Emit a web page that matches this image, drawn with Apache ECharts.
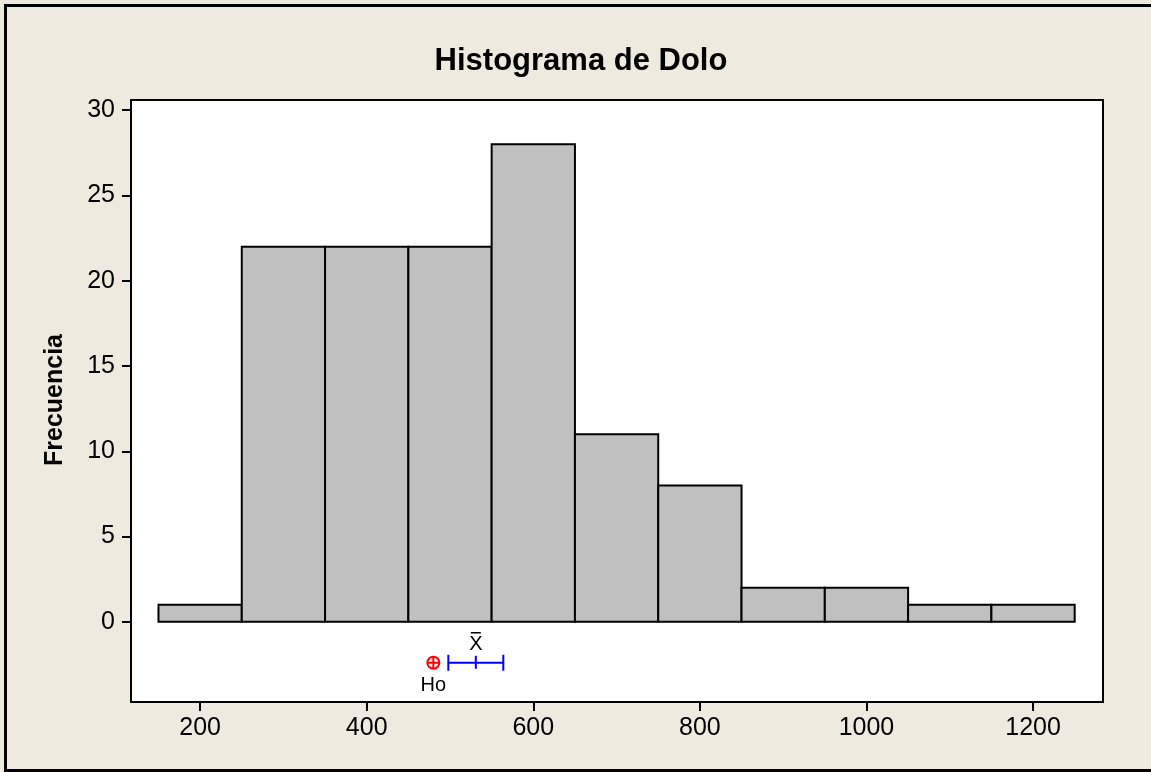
<!DOCTYPE html>
<html>
<head>
<meta charset="utf-8">
<script src="https://cdn.jsdelivr.net/npm/echarts@6/dist/echarts.min.js"></script>
<style>
  html, body { margin: 0; padding: 0; background: #EEEAE0; }
  #chart { width: 1151px; height: 772px; }
</style>
</head>
<body>
<div id="chart"></div>
<script>
// Histogram bins (centre of each class) and their frequencies
const binCenters = [200, 300, 400, 500, 600, 700, 800, 900, 1000, 1100, 1200];
const counts = [1, 22, 22, 22, 28, 11, 8, 2, 2, 1, 1];
const binWidth = 100;

// Tick labels
const xTicks = [200, 400, 600, 800, 1000, 1200];
const yTicks = [0, 5, 10, 15, 20, 25, 30];

// Hypothesis test summary drawn under the bars
const hypothesizedMean = 480;   // Ho
const sampleMean = 531;         // X-bar
const ciLower = 498;
const ciUpper = 564;
const markerLevel = -2.4;

const FONT = "'Liberation Sans', Arial, sans-serif";

const chart = echarts.init(document.getElementById('chart'), null, { renderer: 'canvas' });

const option = {
  backgroundColor: '#EEEAE0',
  animation: false,
  grid: {
    left: 131, right: 48, top: 100, bottom: 70,
    show: true, backgroundColor: '#ffffff', borderColor: '#000000', borderWidth: 2
  },
  xAxis: {
    type: 'value', min: 117, max: 1284,
    axisLine: { show: false, onZero: false },
    splitLine: { show: false },
    axisTick: { show: true, customValues: xTicks, length: 9, lineStyle: { color: '#000', width: 2 } },
    axisLabel: {
      customValues: xTicks, margin: 14, color: '#000', fontSize: 25, fontFamily: FONT,
      formatter: v => String(v)
    }
  },
  yAxis: {
    type: 'value', min: -4.7, max: 30.6,
    axisLine: { show: false, onZero: false },
    splitLine: { show: false },
    axisTick: { show: true, customValues: yTicks, length: 9, lineStyle: { color: '#000', width: 2 } },
    axisLabel: {
      customValues: yTicks, margin: 16, color: '#000', fontSize: 25, fontFamily: FONT,
      formatter: v => String(v)
    }
  },
  series: [
    {
      type: 'custom',
      name: 'Frecuencia',
      data: binCenters.map((c, i) => [c, counts[i]]),
      renderItem: function (params, api) {
        const c = api.value(0);
        const n = api.value(1);
        const p0 = api.coord([c - binWidth / 2, 0]);
        const p1 = api.coord([c + binWidth / 2, n]);
        return {
          type: 'rect',
          shape: { x: p0[0], y: p1[1], width: p1[0] - p0[0], height: p0[1] - p1[1] },
          style: { fill: '#C0C0C0', stroke: '#000000', lineWidth: 2 }
        };
      }
    },
    {
      type: 'custom',
      name: 'Ho',
      data: [[hypothesizedMean, markerLevel]],
      renderItem: function (params, api) {
        const p = api.coord([api.value(0), api.value(1)]);
        const r = 6;
        return {
          type: 'group',
          children: [
            { type: 'circle', shape: { cx: p[0], cy: p[1], r: r }, style: { fill: 'none', stroke: '#FF0000', lineWidth: 2 } },
            { type: 'line', shape: { x1: p[0] - r, y1: p[1], x2: p[0] + r, y2: p[1] }, style: { stroke: '#FF0000', lineWidth: 2 } },
            { type: 'line', shape: { x1: p[0], y1: p[1] - r, x2: p[0], y2: p[1] + r }, style: { stroke: '#FF0000', lineWidth: 2 } },
            { type: 'text', x: p[0], y: p[1] + 23, style: { text: 'Ho', fill: '#000', font: '20px ' + FONT, align: 'center', verticalAlign: 'middle' } }
          ]
        };
      }
    },
    {
      type: 'custom',
      name: 'IC',
      data: [[sampleMean, markerLevel, ciLower, ciUpper]],
      renderItem: function (params, api) {
        const pm = api.coord([api.value(0), api.value(1)]);
        const pl = api.coord([api.value(2), api.value(1)]);
        const pu = api.coord([api.value(3), api.value(1)]);
        const cap = 8;
        const blue = '#0000FF';
        return {
          type: 'group',
          children: [
            { type: 'line', shape: { x1: pl[0], y1: pl[1], x2: pu[0], y2: pu[1] }, style: { stroke: blue, lineWidth: 2 } },
            { type: 'line', shape: { x1: pl[0], y1: pl[1] - cap, x2: pl[0], y2: pl[1] + cap }, style: { stroke: blue, lineWidth: 2 } },
            { type: 'line', shape: { x1: pu[0], y1: pu[1] - cap, x2: pu[0], y2: pu[1] + cap }, style: { stroke: blue, lineWidth: 2 } },
            { type: 'line', shape: { x1: pm[0], y1: pm[1] - 7, x2: pm[0], y2: pm[1] + 6 }, style: { stroke: blue, lineWidth: 2 } },
            { type: 'text', x: pm[0], y: pm[1] - 18, style: { text: 'X', fill: '#000', font: '20px ' + FONT, align: 'center', verticalAlign: 'middle' } },
            { type: 'line', shape: { x1: pm[0] - 5, y1: pm[1] - 30, x2: pm[0] + 5, y2: pm[1] - 30 }, style: { stroke: '#000', lineWidth: 1.5 } }
          ]
        };
      }
    }
  ],
  graphic: [
    {
      type: 'rect', silent: true, z: 100,
      shape: { x: 5.5, y: 5.5, width: 1155, height: 765 },
      style: { fill: 'none', stroke: '#000000', lineWidth: 3 }
    },
    {
      type: 'text', x: 581, y: 61,
      style: { text: 'Histograma de Dolo', fill: '#000', font: 'bold 31px ' + FONT, align: 'center', verticalAlign: 'middle' }
    },
    {
      type: 'text', x: 55, y: 400, rotation: Math.PI / 2,
      style: { text: 'Frecuencia', fill: '#000', font: 'bold 25px ' + FONT, align: 'center', verticalAlign: 'middle' }
    }
  ]
};

chart.setOption(option);
</script>
</body>
</html>
